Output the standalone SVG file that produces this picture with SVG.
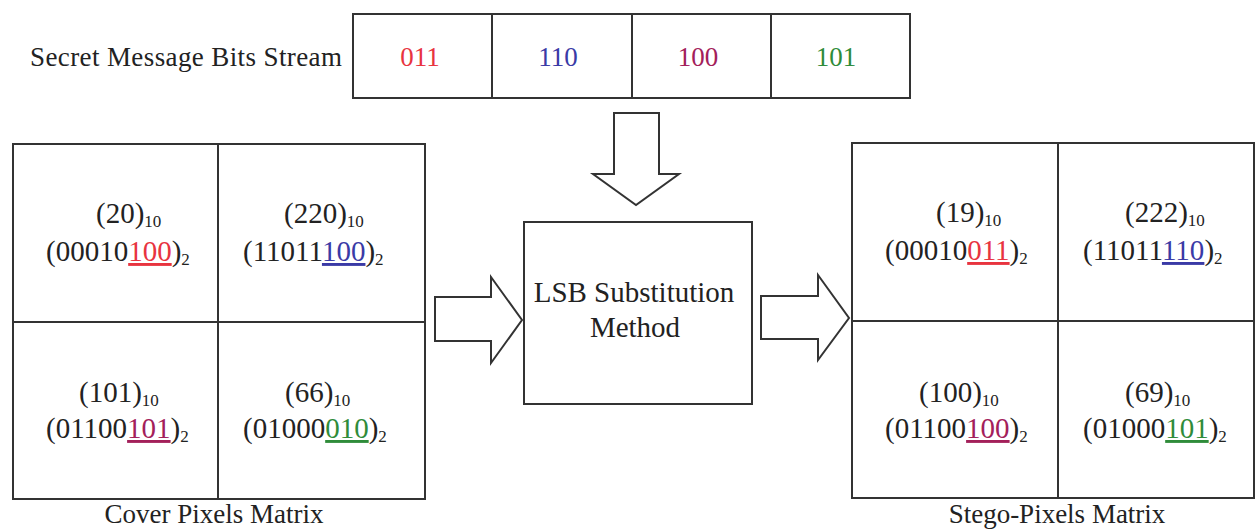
<svg xmlns="http://www.w3.org/2000/svg" width="1256" height="529" viewBox="0 0 1256 529" font-family="'Liberation Serif', 'DejaVu Serif', 'Times New Roman', serif">
<style>
.box{fill:#fff;stroke:#333;stroke-width:2}
.ln{stroke:#333;stroke-width:2;fill:none}
.arr{fill:#fff;stroke:#333;stroke-width:2;stroke-linejoin:miter}
text{font-family:'Liberation Serif','DejaVu Serif','Times New Roman',serif;fill:#222}
.t{font-size:27px}
.c{font-size:29px}
.sub{font-size:17px}
.r{fill:#e8343f}.b{fill:#3a3aa6}.m{fill:#a3205a}.g{fill:#2f8c3a}
.u{text-decoration:underline}
</style>
<rect width="1256" height="529" fill="#fff"/>
<g id="label-secret"><text class="t" x="30" y="66" textLength="312">Secret Message Bits Stream</text></g>
<g id="bits">
<rect class="box" x="353" y="14" width="557" height="84"/>
<line class="ln" x1="492" y1="14" x2="492" y2="98"/>
<line class="ln" x1="632" y1="14" x2="632" y2="98"/>
<line class="ln" x1="771" y1="14" x2="771" y2="98"/>
<text class="t r" x="420" y="66" text-anchor="middle">011</text>
<text class="t b" x="558" y="66" text-anchor="middle">110</text>
<text class="t m" x="698" y="66" text-anchor="middle">100</text>
<text class="t g" x="836" y="66" text-anchor="middle">101</text>
</g>
<g id="cover">
<rect class="box" x="13" y="144" width="412" height="355"/>
<line class="ln" x1="218" y1="144" x2="218" y2="499"/>
<line class="ln" x1="13" y1="322" x2="425" y2="322"/>
<text class="c" x="96" y="223">(20)<tspan class="sub" dy="4">10</tspan></text>
<text class="c" x="46" y="261">(00010<tspan class="r u">100</tspan>)<tspan class="sub" dy="4">2</tspan></text>
<text class="c" x="284" y="223">(220)<tspan class="sub" dy="4">10</tspan></text>
<text class="c" x="243" y="261">(11011<tspan class="b u">100</tspan>)<tspan class="sub" dy="4">2</tspan></text>
<text class="c" x="79" y="402">(101)<tspan class="sub" dy="4">10</tspan></text>
<text class="c" x="46" y="438">(01100<tspan class="m u">101</tspan>)<tspan class="sub" dy="4">2</tspan></text>
<text class="c" x="285" y="402">(66)<tspan class="sub" dy="4">10</tspan></text>
<text class="c" x="243" y="438">(01000<tspan class="g u">010</tspan>)<tspan class="sub" dy="4">2</tspan></text>
<text class="t" x="214" y="523" text-anchor="middle">Cover Pixels Matrix</text>
</g>
<g id="lsb">
<rect class="box" x="524" y="222" width="228" height="182"/>
<text class="c" x="634" y="302" text-anchor="middle">LSB Substitution</text>
<text class="c" x="635" y="337" text-anchor="middle">Method</text>
</g>
<g id="stego">
<rect class="box" x="852" y="143" width="402" height="355"/>
<line class="ln" x1="1058" y1="143" x2="1058" y2="498"/>
<line class="ln" x1="852" y1="321" x2="1254" y2="321"/>
<text class="c" x="936" y="222">(19)<tspan class="sub" dy="4">10</tspan></text>
<text class="c" x="885" y="260">(00010<tspan class="r u">011</tspan>)<tspan class="sub" dy="4">2</tspan></text>
<text class="c" x="1125" y="222">(222)<tspan class="sub" dy="4">10</tspan></text>
<text class="c" x="1083" y="260">(11011<tspan class="b u">110</tspan>)<tspan class="sub" dy="4">2</tspan></text>
<text class="c" x="919" y="402">(100)<tspan class="sub" dy="4">10</tspan></text>
<text class="c" x="885" y="438">(01100<tspan class="m u">100</tspan>)<tspan class="sub" dy="4">2</tspan></text>
<text class="c" x="1125" y="402">(69)<tspan class="sub" dy="4">10</tspan></text>
<text class="c" x="1083" y="438">(01000<tspan class="g u">101</tspan>)<tspan class="sub" dy="4">2</tspan></text>
<text class="t" x="1057" y="523" text-anchor="middle">Stego-Pixels Matrix</text>
</g>
<g id="connectors">
<polygon class="arr" points="614,113 659,113 659,174 679,174 636,205 593,174 614,174"/>
<polygon class="arr" points="435,297 491,297 491,277 522,320 491,363 491,341 435,341"/>
<polygon class="arr" points="761,296 818,296 818,275 849,318 818,360 818,339 761,339"/>
</g>
</svg>
